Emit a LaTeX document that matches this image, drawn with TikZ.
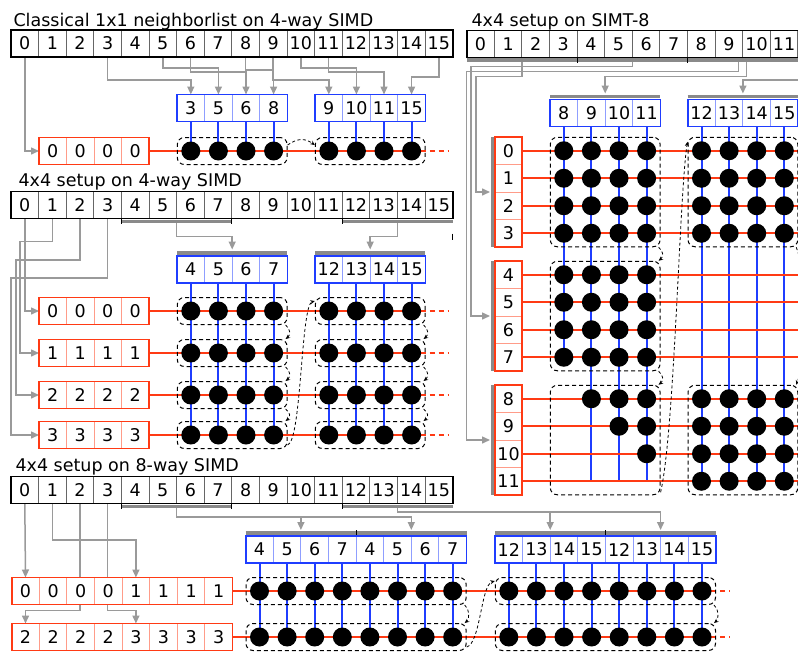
\documentclass[tikz,border=0pt]{standalone}
\usepackage{fontspec}
\newfontfamily\dejavu{DejaVu Sans}
\usetikzlibrary{arrows.meta,backgrounds,fit}

\definecolor{simdred}{HTML}{FF3A14}
\definecolor{simdblue}{HTML}{1F3DFF}
\definecolor{feedgray}{HTML}{9A9A9A}
\definecolor{bargray}{HTML}{8A8A8A}

\tikzset{
  lbl/.style={font=\dejavu\fontsize{17.5pt}{21pt}\selectfont},
  cell/.style={lbl, minimum width=27.6pt, minimum height=27pt, inner sep=0pt, outer sep=0pt, fill=white},
  idxcell/.style={cell, draw=black!60, line width=0.9pt},
  bluecell/.style={cell, draw=simdblue!50, line width=0.9pt},
  redcell/.style={cell, draw=simdred!50, line width=0.9pt},
  idxframe/.style={draw=black, line width=1.8pt},
  blueframe/.style={draw=simdblue, line width=1.8pt},
  redframe/.style={draw=simdred, line width=1.8pt},
  ball/.style={circle, fill=black, minimum size=19pt, inner sep=0pt},
  grp/.style={draw, dash pattern=on 4pt off 3pt, rounded corners=7pt, inner sep=13.5pt, line width=1pt},
  feed/.style={draw=feedgray, line width=1.5pt, -{Triangle[length=8pt,width=7pt]}},
  greybar/.style={draw=bargray, line width=3.5pt},
  gtick/.style={draw=black, line width=1pt},
  bluewire/.style={draw=simdblue, line width=2pt},
  redwire/.style={draw=simdred, line width=2pt},
  redtail/.style={redwire, dash pattern=on 5pt off 4pt},
  hop/.style={draw, dash pattern=on 3pt off 2.5pt, line width=0.8pt, -{Stealth[length=4.5pt,width=4pt]}},
}

\begin{document}
\begin{tikzpicture}[x=1pt,y=-1pt]
\useasboundingbox (0,0) rectangle (798,651);
\clip (0,0) rectangle (798,651);

% titles
\node[lbl, anchor=base west] (titleA) at (10,26) {Classical 1x1 neighborlist on 4-way SIMD};
\node[lbl, anchor=base west] (titleB) at (15,186) {4x4 setup on 4-way SIMD};
\node[lbl, anchor=base west] (titleC) at (12,471) {4x4 setup on 8-way SIMD};
\node[lbl, anchor=base west] (titleD) at (468,26) {4x4 setup on SIMT-8};

%% classical 1x1
\foreach \i in {0,...,15}
  \node[idxcell] (ia\i) at ({11+27.6*(\i+0.5)},43.5) {\i};
\draw[idxframe] (ia0.north west) rectangle (ia15.south east);
\foreach \v [count=\k from 0] in {3,5,6,8,9,10,11,15} {
  \pgfmathsetmacro\bx{\k<4 ? 177+27.6*(\k+0.5) : 315+27.6*(\k-3.5)}
  \node[bluecell] (ba\k) at (\bx,108) {\v};
}
\draw[blueframe] (ba0.north west) rectangle (ba3.south east);
\draw[blueframe] (ba4.north west) rectangle (ba7.south east);
\foreach \k in {0,...,3}
  \node[redcell, minimum width=27.5pt] (ra\k) at ({39+27.5*(\k+0.5)},151) {0};
\draw[redframe] (ra0.north west) rectangle (ra3.south east);
\foreach \k in {0,...,7}
  \coordinate (pa\k) at (ba\k |- ra0);
\coordinate (ta) at (448,151);
\foreach \k in {0,...,7}
  \draw[bluewire] (ba\k.south) -- (pa\k);
\draw[redwire] (ra3.east) -- (pa7);
\draw[redtail] (pa7) -- (ta);
\foreach \k in {0,...,7}
  \node[ball] (da\k) at (pa\k) {};
\node[grp, fit=(pa0)(pa3)] (ga0) {};
\node[grp, fit=(pa4)(pa7)] (ga1) {};
\draw[hop] ([yshift=6pt]ga0.east) .. controls +(10,-7) and +(-10,-7) .. ([yshift=6pt]ga1.west);
\begin{scope}[on background layer]
  \draw[feed] (ia0.south) |- (ra0.west);
  \foreach \j/\k/\dy in {3/0/23,5/1/11,6/2/15,8/3/13,9/4/23,10/5/11,11/6/15,15/7/20}
    \draw[feed] (ia\j.south) -- ++(0,\dy) -| (ba\k.north);
\end{scope}

%% 4x4 on 4-way
\foreach \i in {0,...,15}
  \node[idxcell] (ib\i) at ({11+27.6*(\i+0.5)},205) {\i};
\draw[idxframe] (ib0.north west) rectangle (ib15.south east);
\draw[greybar] ([yshift=-3pt]ib4.south west) -- ([yshift=-3pt]ib7.south east);
\draw[greybar] ([yshift=-3pt]ib12.south west) -- ([yshift=-3pt]ib15.south east);
\foreach \i in {3,7,11}
  \draw[gtick] (ib\i.south east) -- ++(0,5);
\draw[gtick] ([yshift=-15pt]ib15.south east) -- ++(0,6);
\foreach \v [count=\k from 0] in {4,5,6,7,12,13,14,15} {
  \pgfmathsetmacro\bx{\k<4 ? 177+27.6*(\k+0.5) : 315+27.6*(\k-3.5)}
  \node[bluecell] (bb\k) at (\bx,269.5) {\v};
}
\draw[greybar] ([yshift=3pt]bb0.north west) -- ([yshift=3pt]bb3.north east);
\draw[greybar] ([yshift=3pt]bb4.north west) -- ([yshift=3pt]bb7.north east);
\draw[blueframe] (bb0.north west) rectangle (bb3.south east);
\draw[blueframe] (bb4.north west) rectangle (bb7.south east);
\foreach \r/\ry in {0/311,1/353,2/395,3/435} {
  \foreach \k in {0,...,3}
    \node[redcell, minimum width=27.5pt] (rb-\r-\k) at ({39+27.5*(\k+0.5)},\ry) {\r};
  \draw[redframe] (rb-\r-0.north west) rectangle (rb-\r-3.south east);
  \foreach \k in {0,...,7}
    \coordinate (pb-\r-\k) at (bb\k |- rb-\r-0);
  \coordinate (tb-\r) at (448,\ry);
}
\foreach \k in {0,...,7}
  \draw[bluewire] (bb\k.south) -- (pb-3-\k);
\foreach \r in {0,...,3} {
  \draw[redwire] (rb-\r-3.east) -- (pb-\r-7);
  \draw[redtail] (pb-\r-7) -- (tb-\r);
  \foreach \k in {0,...,7}
    \node[ball] (db-\r-\k) at (pb-\r-\k) {};
  \node[grp, fit=(pb-\r-0)(pb-\r-3)] (gb-\r-0) {};
  \node[grp, fit=(pb-\r-4)(pb-\r-7)] (gb-\r-1) {};
}
\foreach \r/\s in {0/1,1/2,2/3}
  \foreach \c in {0,1}
    \draw[hop] ([xshift=-2pt]gb-\r-\c.south east) .. controls +(5,4) and +(5,-4) .. ([xshift=-2pt]gb-\s-\c.north east);
\draw[hop] ([yshift=4pt]gb-3-0.south east) .. controls +(14,-4) and +(-14,4) .. ([yshift=-4pt]gb-0-1.north west);
\begin{scope}[on background layer]
  \draw[feed] ([yshift=-3pt]ib5.south east) -- ++(0,15) -| ([yshift=6.5pt]bb1.north east);
  \draw[feed] ([yshift=-3pt]ib13.south east) -- ++(0,15) -| ([yshift=6.5pt]bb5.north east);
  \draw[feed] (ib0.south) |- (rb-0-0.west);
  \foreach \r/\dy/\dx in {1/23.2/32.4,2/41.5/64,3/59.5/96.6}
    \draw[feed] (ib\r.south) -- ++(0,\dy) -- ++(-\dx,0) |- (rb-\r-0.west);
\end{scope}

%% 4x4 on 8-way
\foreach \i in {0,...,15}
  \node[idxcell] (ic\i) at ({11+27.6*(\i+0.5)},490) {\i};
\draw[idxframe] (ic0.north west) rectangle (ic15.south east);
\draw[greybar] ([yshift=-3pt]ic4.south west) -- ([yshift=-3pt]ic7.south east);
\draw[greybar] ([yshift=-3pt]ic12.south west) -- ([yshift=-3pt]ic15.south east);
\foreach \i in {3,7,11}
  \draw[gtick] (ic\i.south east) -- ++(0,5);
\foreach \v [count=\k from 0] in {4,5,6,7,4,5,6,7,12,13,14,15,12,13,14,15} {
  \pgfmathsetmacro\bx{\k<8 ? 245.7+27.6*(\k+0.5) : 495+27.6*(\k-7.5)}
  \node[bluecell] (bc\k) at (\bx,549.5) {\v};
}
\draw[greybar] ([yshift=3pt]bc0.north west) -- ([yshift=3pt]bc7.north east);
\draw[greybar] ([yshift=3pt]bc8.north west) -- ([yshift=3pt]bc15.north east);
\draw[gtick] (bc3.north east) -- ++(0,-6);
\draw[gtick] (bc11.north east) -- ++(0,-6);
\draw[blueframe] (bc0.north west) rectangle (bc7.south east);
\draw[blueframe] (bc8.north west) rectangle (bc15.south east);
\foreach \r in {0,1} {
  \foreach \k in {0,...,7} {
    \pgfmathtruncatemacro\v{2*\r+(\k>3)}
    \node[redcell] (rc-\r-\k) at ({11.7+27.6*(\k+0.5)},{591+46*\r}) {\v};
  }
  \draw[redframe] (rc-\r-0.north west) rectangle (rc-\r-7.south east);
  \foreach \k in {0,...,15}
    \coordinate (pc-\r-\k) at (bc\k |- rc-\r-0);
  \coordinate (tc-\r) at (730,{591+46*\r});
}
\foreach \k in {0,...,15}
  \draw[bluewire] (bc\k.south) -- (pc-1-\k);
\foreach \r in {0,1} {
  \draw[redwire] (rc-\r-7.east) -- (pc-\r-15);
  \draw[redtail] (pc-\r-15) -- (tc-\r);
  \foreach \k in {0,...,15}
    \node[ball] (dc-\r-\k) at (pc-\r-\k) {};
  \node[grp, fit=(pc-\r-0)(pc-\r-7)] (gc-\r-0) {};
  \node[grp, fit=(pc-\r-8)(pc-\r-15)] (gc-\r-1) {};
}
\foreach \c in {0,1}
  \draw[hop] ([xshift=-2pt]gc-0-\c.south east) .. controls +(5,4) and +(5,-4) .. ([xshift=-2pt]gc-1-\c.north east);
\draw[hop] ([yshift=4pt]gc-1-0.south east) .. controls +(14,-4) and +(-14,4) .. ([yshift=-4pt]gc-0-1.north west);
\begin{scope}[on background layer]
  \draw[feed] ([yshift=-3.5pt]ic5.south east) -- ++(0,10) -| ([yshift=6pt]bc1.north east);
  \draw[feed] ([yshift=-3.5pt]ic5.south east) -- ++(0,10) -| ([yshift=6pt]bc5.north east);
  \draw[feed] ([yshift=-3.5pt]ic13.south east) -- ++(0,5) -| ([yshift=6pt]bc9.north east);
  \draw[feed] ([yshift=-3.5pt]ic13.south east) -- ++(0,5) -| ([yshift=6pt]bc13.north east);
  \draw[feed] (ic0.south) -- (rc-0-0.north);
  \draw[feed] (ic1.south) -- ++(0,36.5) -| (rc-0-4.north);
  \draw[feed] (ic2.south) -- ++(0,107) -| (rc-1-0.north);
  \draw[feed] (ic3.south) -- ++(0,107) -| (rc-1-4.north);
\end{scope}

%% 4x4 on SIMT-8
\foreach \i in {0,...,11}
  \node[idxcell] (id\i) at ({466.7+27.6*(\i+0.5)},44) {\i};
\coordinate (idend) at ([xshift=20pt]id11.south east);
\coordinate (idmid) at ([xshift=55.2pt,yshift=-3pt]id11.south east);
\draw[idxframe] (idend) -- (id0.south west) -- (id0.north west) -- (idend |- id0.north west);
\draw[greybar] ([yshift=-2.5pt]id0.south west) -- ([yshift=-2.5pt]idend);
\foreach \i in {3,7}
  \draw[gtick] (id\i.south east) -- ++(0,5);
\foreach \k in {0,...,7} {
  \pgfmathsetmacro\bx{\k<4 ? 550+27.6*(\k+0.5) : 687.7+27.6*(\k-3.5)}
  \pgfmathtruncatemacro\v{\k+8}
  \node[bluecell] (bd\k) at (\bx,113) {\v};
}
\draw[greybar] ([yshift=3pt]bd0.north west) -- ([yshift=3pt]bd3.north east);
\draw[greybar] ([yshift=3pt]bd4.north west) -- ([yshift=3pt]bd7.north east);
\draw[blueframe] (bd0.north west) rectangle (bd3.south east);
\draw[blueframe] (bd4.north west) rectangle (bd7.south east);
\foreach \r in {0,...,11} {
  \pgfmathsetmacro\ry{137+124*floor(\r/4)+27.5*(mod(\r,4)+0.5)}
  \node[redcell, minimum width=27pt, minimum height=27.5pt] (rd\r) at (508.5,\ry) {\r};
  \coordinate (ed\r) at (800,\ry);
  \foreach \k in {0,...,7}
    \coordinate (pd-\r-\k) at (bd\k |- rd\r);
}
\foreach \a/\b in {0/3,4/7,8/11} {
  \draw[greybar] ([xshift=-2.5pt]rd\a.north west) -- ([xshift=-2.5pt]rd\b.south west);
  \draw[redframe] (rd\a.north west) rectangle (rd\b.south east);
}
\draw[bluewire] (bd0.south) -- (pd-7-0);
\foreach \k in {1,...,7}
  \draw[bluewire] (bd\k.south) -- (pd-11-\k);
\foreach \r in {0,...,11}
  \draw[redwire] (rd\r.east) -- (ed\r);
\foreach \r in {0,...,11}
  \foreach \k in {0,...,7} {
    \pgfmathtruncatemacro\show{((\k>3 && (\r<4 || \r>7)) || (\k<4 && (\r<8 || \k>\r-8))) ? 1 : 0}
    \ifnum\show=1 \node[ball] (dd-\r-\k) at (pd-\r-\k) {};\fi
  }
\node[grp, fit=(pd-0-0)(pd-3-3)] (gd-0-0) {};
\node[grp, fit=(pd-4-0)(pd-7-3)] (gd-1-0) {};
\node[grp, fit=(pd-8-0)(pd-11-3)] (gd-2-0) {};
\node[grp, fit=(pd-0-4)(pd-3-7)] (gd-0-1) {};
\node[grp, fit=(pd-8-4)(pd-11-7)] (gd-2-1) {};
\draw[hop] ([xshift=-2pt]gd-0-0.south east) .. controls +(5,4) and +(5,-4) .. ([xshift=-2pt]gd-1-0.north east);
\draw[hop] ([xshift=-2pt]gd-1-0.south east) .. controls +(5,4) and +(5,-4) .. ([xshift=-2pt]gd-2-0.north east);
\draw[hop] ([yshift=3pt]gd-2-0.south east) .. controls +(14,-60) and +(-8,50) .. ([yshift=-5pt]gd-0-1.north west);
\draw[hop] ([xshift=-2pt]gd-0-1.south east) .. controls +(14,40) and +(14,-40) .. ([xshift=-2pt]gd-2-1.north east);
\begin{scope}[on background layer]
  \draw[feed] ([yshift=-3pt]id1.south east) -- ++(0,16) -- ++(-46,0) |- ([xshift=-5pt]rd1.south west);
  \draw[feed] ([yshift=-3pt]id5.south east) -- ++(0,6) -- ++(-161.3,0) |- ([xshift=-5pt]rd5.south west);
  \draw[feed] ([xshift=-4pt,yshift=-3pt]id9.south east) -- ++(0,11) -- ++(-272,0) |- ([xshift=-5pt]rd9.south west);
  \draw[feed] ([xshift=4pt,yshift=-3pt]id9.south east) -- ++(0,16) -| ([yshift=6pt]bd1.north east);
  \draw[feed] (idmid) -- ++(0,19.5) -| ([yshift=6pt]bd5.north east);
\end{scope}
\end{tikzpicture}
\end{document}
